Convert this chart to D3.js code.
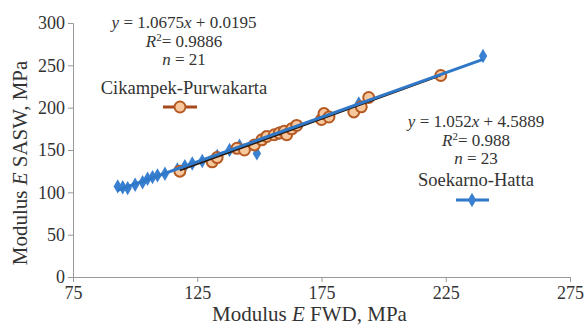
<!DOCTYPE html>
<html>
<head>
<meta charset="utf-8">
<script src="https://cdn.jsdelivr.net/npm/d3@7"></script>
<style>
  body { margin: 0; background: #fff; }
  .axis path, .axis line { stroke: #999; }
</style>
</head>
<body>
<div id="chart"></div>
<script>
// Cikampek-Purwakarta (FWD, SASW) pairs
const cikFwd = [118, 131, 133, 141, 144, 148, 151, 153, 156, 158, 160, 161, 163, 165, 175, 176, 178, 188, 191, 194, 223];
const cikSasw = [125, 136, 141, 152, 150, 156, 162, 166, 168, 170, 172, 168, 175, 179, 186, 193, 189, 195, 201, 212, 238];
// Soekarno-Hatta (FWD, SASW) pairs
const soeFwd = [93, 95, 97, 100, 103, 105, 107, 109, 112, 117, 120, 123, 127, 133, 138, 142, 149, 152, 158, 165, 177, 190, 240];
const soeSasw = [107, 106, 105, 109, 112, 116, 118, 120, 122, 127, 131, 134, 137, 143, 150, 155, 146, 165, 170, 178, 190, 205, 261];
// trend lines  y = a x + b
const cikFit = {a: 1.0675, b: 0.0195};
const soeFit = {a: 1.052, b: 4.5889};
const xTicks = [75, 125, 175, 225, 275];
const yTicks = [0, 50, 100, 150, 200, 250, 300];

const FONT = 'Liberation Serif';
const W = 586, H = 326;
const margin = {top: 23, right: 16, bottom: 49, left: 73};
const width = W - margin.left - margin.right;
const height = H - margin.top - margin.bottom;

const svg = d3.select('#chart').append('svg')
  .attr('width', W)
  .attr('height', H);

const g = svg.append('g')
  .attr('transform', `translate(${margin.left}, ${margin.top})`);

const x = d3.scaleLinear().domain([75, 275]).range([0, width]);
const y = d3.scaleLinear().domain([0, 300]).range([height, 0]);

// axes
g.append('g')
  .attr('class', 'axis')
  .attr('transform', `translate(0, ${height})`)
  .call(d3.axisBottom(x).tickValues(xTicks).tickSizeOuter(0).tickSize(5).tickPadding(4))
  .attr('font-family', FONT).attr('font-size', 18);

g.append('g')
  .attr('class', 'axis')
  .call(d3.axisLeft(y).tickValues(yTicks).tickSizeOuter(0).tickSize(5).tickPadding(3))
  .attr('font-family', FONT).attr('font-size', 18);

g.selectAll('.axis text').attr('fill', '#333');

// axis titles
const xt = svg.append('text')
  .attr('x', margin.left + width / 2 - 12)
  .attr('y', 321)
  .attr('text-anchor', 'middle')
  .attr('font-family', FONT)
  .attr('font-size', 21)
  .attr('fill', '#333');
xt.append('tspan').text('Modulus ');
xt.append('tspan').attr('font-style', 'italic').text('E');
xt.append('tspan').text(' FWD, MPa');

const yt = svg.append('text')
  .attr('transform', 'translate(27, 163) rotate(-90)')
  .attr('text-anchor', 'middle')
  .attr('font-family', FONT)
  .attr('font-size', 21)
  .attr('fill', '#333');
yt.append('tspan').text('Modulus ');
yt.append('tspan').attr('font-style', 'italic').text('E');
yt.append('tspan').text(' SASW, MPa');

// points
const cik = cikFwd.map((v, i) => ({x: v, y: cikSasw[i]}));
const soe = soeFwd.map((v, i) => ({x: v, y: soeSasw[i]}));

const diamond = d3.symbol().type(d3.symbolDiamond).size(60);

g.selectAll('.soe')
  .data(soe)
  .enter()
  .append('path')
  .attr('class', 'soe')
  .attr('d', diamond)
  .attr('transform', d => `translate(${x(d.x)}, ${y(d.y)})`)
  .style('fill', '#3a80d0');

g.selectAll('.cik')
  .data(cik)
  .enter()
  .append('circle')
  .attr('class', 'cik')
  .attr('cx', d => x(d.x))
  .attr('cy', d => y(d.y))
  .attr('r', 5.5)
  .style('fill', '#f7c89e')
  .style('stroke', '#b65a22')
  .style('stroke-width', 2);

// trend lines
const fitLine = d3.line().x(d => x(d[0])).y(d => y(d[1]));

g.append('path')
  .attr('d', fitLine(d3.extent(cikFwd).map(v => [v, cikFit.a * v + cikFit.b])))
  .style('fill', 'none')
  .style('stroke', '#2a1a10')
  .style('stroke-width', 2);

g.append('path')
  .attr('d', fitLine(d3.extent(soeFwd).map(v => [v, soeFit.a * v + soeFit.b])))
  .style('fill', 'none')
  .style('stroke', '#2f78c8')
  .style('stroke-width', 3);

// annotations + legend keys
function note(cx, lines) {
  lines.forEach(l => {
    const txt = svg.append('text')
      .attr('x', cx)
      .attr('y', l.y)
      .attr('text-anchor', 'middle')
      .attr('font-family', FONT)
      .attr('font-size', l.size || 17)
      .attr('fill', '#333');
    l.parts.forEach(p => {
      const s = txt.append('tspan').text(p.t);
      if (p.i) s.attr('font-style', 'italic');
      if (p.sup) s.attr('dy', -6).attr('font-size', 11);
      if (p.after) s.attr('dy', 6);
    });
  });
}

note(184, [
  {y: 28, parts: [{t: 'y', i: true}, {t: ' = 1.0675'}, {t: 'x', i: true}, {t: ' + 0.0195'}]},
  {y: 47, parts: [{t: 'R', i: true}, {t: '2', sup: true}, {t: '= 0.9886', after: true}]},
  {y: 65, parts: [{t: 'n', i: true}, {t: ' = 21'}]},
  {y: 94, size: 18.5, parts: [{t: 'Cikampek-Purwakarta'}]}
]);

note(476, [
  {y: 127, parts: [{t: 'y', i: true}, {t: ' = 1.052'}, {t: 'x', i: true}, {t: ' + 4.5889'}]},
  {y: 146, parts: [{t: 'R', i: true}, {t: '2', sup: true}, {t: '= 0.988', after: true}]},
  {y: 164, parts: [{t: 'n', i: true}, {t: ' = 23'}]},
  {y: 186, size: 18.5, parts: [{t: 'Soekarno-Hatta'}]}
]);

svg.append('line')
  .attr('x1', 163).attr('x2', 197).attr('y1', 107).attr('y2', 107)
  .style('stroke', '#a84a1c').style('stroke-width', 3);
svg.append('circle')
  .attr('cx', 180).attr('cy', 107).attr('r', 5.5)
  .style('fill', '#f7c89e').style('stroke', '#b65a22').style('stroke-width', 2);

svg.append('line')
  .attr('x1', 456).attr('x2', 489).attr('y1', 200).attr('y2', 200)
  .style('stroke', '#2f78c8').style('stroke-width', 3);
svg.append('path')
  .attr('d', diamond)
  .attr('transform', 'translate(472, 200)')
  .style('fill', '#3a80d0');
</script>
</body>
</html>
